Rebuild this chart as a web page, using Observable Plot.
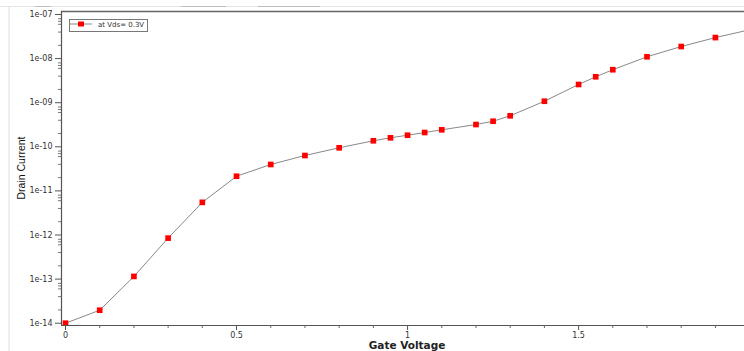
<!DOCTYPE html>
<html>
<head>
<meta charset="utf-8">
<script src="https://cdn.jsdelivr.net/npm/d3@7"></script>
<script src="https://cdn.jsdelivr.net/npm/@observablehq/plot@0.6"></script>
<style>
  html, body { margin: 0; padding: 0; background: #fff; overflow: hidden; width: 744px; height: 351px; }
  #wrap { position: relative; width: 744px; height: 351px; }
  #wrap svg { position: absolute; left: 0; top: 0; }
  .winTop { position: absolute; left: 0; top: 6px; width: 744px; height: 1px; background: #e4e4e4; }
  .winTopDark { position: absolute; top: 6px; height: 1px; background: #bdbdbd; }
  .winLeft { position: absolute; left: 8px; top: 7px; width: 2px; height: 344px; background: #efefef; }
  .ytitle { position: absolute; left: 21px; top: 168px; transform: translate(-50%, -50%) rotate(-90deg);
            font-family: "Liberation Sans", Arial, sans-serif; font-size: 10.5px; color: #111; white-space: nowrap; }
  .xtitle { position: absolute; left: 407px; top: 345px; transform: translate(-50%, -50%);
            font-family: "DejaVu Sans", sans-serif; font-weight: bold; font-size: 10.5px; color: #222; white-space: nowrap; }
  .legend { position: absolute; left: 69px; top: 19px; width: 77px; height: 11px; border: 1px solid #777; background: #fff;
            font-family: "DejaVu Sans", sans-serif; font-size: 7px; color: #333; }
  .legend svg { position: absolute; left: 3px; top: 2px; }
  .legend span { position: absolute; left: 28px; top: 1px; white-space: nowrap; }
</style>
</head>
<body>
<div id="wrap">
  <div class="winTop"></div>
  <div class="winTopDark" style="left:35px;width:16px"></div>
  <div class="winTopDark" style="left:181px;width:45px"></div>
  <div class="winTopDark" style="left:258px;width:62px"></div>
  <div class="winLeft"></div>
</div>
<script>
// ---- data ----
const gateVoltage = [0, 0.1, 0.2, 0.3, 0.4, 0.5, 0.6, 0.7, 0.8, 0.9, 0.95, 1.0, 1.05, 1.1, 1.2, 1.25, 1.3, 1.4, 1.5, 1.55, 1.6, 1.7, 1.8, 1.9, 2.0];
const drainCurrent = [1.0e-14, 1.97e-14, 1.15e-13, 8.5e-13, 5.5e-12, 2.15e-11, 3.97e-11, 6.35e-11, 9.5e-11, 1.37e-10, 1.6e-10, 1.83e-10, 2.11e-10, 2.43e-10, 3.2e-10, 3.8e-10, 5.05e-10, 1.08e-9, 2.59e-9, 3.87e-9, 5.6e-9, 1.1e-8, 1.88e-8, 3.0e-8, 4.5e-8];
const seriesLabel = "at Vds= 0.3V";
const xTitle = "Gate Voltage";
const yTitle = "Drain Current";
const xMajorTicks = [0, 0.5, 1, 1.5];
const xTickLabels = ["0", "0.5", "1", "1.5"];
const xMinorTicks = [0.1, 0.2, 0.3, 0.4, 0.6, 0.7, 0.8, 0.9, 1.1, 1.2, 1.3, 1.4, 1.6, 1.7, 1.8, 1.9];
const yMajorTicks = [1e-14, 1e-13, 1e-12, 1e-11, 1e-10, 1e-9, 1e-8, 1e-7];
const yTickLabels = ["1e-14", "1e-13", "1e-12", "1e-11", "1e-10", "1e-09", "1e-08", "1e-07"];
const yMinorMultipliers = [2, 4, 6, 7, 8];
const xDomain = [-0.0117, 1.985];
const yDomain = [8.87e-15, 1.17e-7];

const data = gateVoltage.map((v, i) => ({v, i: drainCurrent[i]}));
const yMinorTicks = yMajorTicks.slice(0, -1).flatMap(d => yMinorMultipliers.map(k => k * d));
const xLab = new Map(xMajorTicks.map((t, i) => [t, xTickLabels[i]]));
const yLab = new Map(yMajorTicks.map((t, i) => [t, yTickLabels[i]]));

const axisColor = "#555";
const chart = Plot.plot({
  width: 744,
  height: 351,
  marginLeft: 61,
  marginRight: 0,
  marginTop: 11,
  marginBottom: 26,
  style: {fontFamily: "DejaVu Sans, sans-serif", fontSize: "8px", color: "#333", background: "transparent"},
  x: {domain: xDomain, label: null},
  y: {type: "log", domain: yDomain, label: null},
  marks: [
    Plot.ruleY([yDomain[1]], {stroke: "#666", strokeWidth: 1.5}),
    Plot.ruleX([xDomain[0]], {stroke: axisColor, strokeWidth: 1.2}),
    Plot.ruleY([yDomain[0]], {stroke: axisColor, strokeWidth: 1.2}),
    Plot.axisY(yMinorTicks, {tickSize: 3, tickFormat: () => "", stroke: "#777", label: null}),
    Plot.axisY(yMajorTicks, {tickSize: 6, tickPadding: 3, tickFormat: d => yLab.get(d), stroke: axisColor, fill: "#333", label: null}),
    Plot.axisX(xMinorTicks, {tickSize: 3, tickFormat: () => "", stroke: "#666", label: null}),
    Plot.axisX(xMajorTicks, {tickSize: 5, tickPadding: 2, tickFormat: d => xLab.get(d), stroke: axisColor, fill: "#333", label: null}),
    Plot.line(data, {x: "v", y: "i", stroke: "#888", strokeWidth: 1, clip: true}),
    Plot.dot(data, {x: "v", y: "i", symbol: "square", r: 3.2, fill: "#ff0000", stroke: "none", clip: true})
  ]
});

const wrap = document.getElementById("wrap");
wrap.appendChild(chart);

const yt = document.createElement("div");
yt.className = "ytitle"; yt.textContent = yTitle; wrap.appendChild(yt);
const xt = document.createElement("div");
xt.className = "xtitle"; xt.textContent = xTitle; wrap.appendChild(xt);

const lg = document.createElement("div");
lg.className = "legend";
lg.innerHTML = `<svg width="24" height="8"><line x1="0" y1="4" x2="22" y2="4" stroke="#888" stroke-width="1"/><rect x="8" y="1.5" width="6" height="5" fill="#ff0000"/></svg><span></span>`;
lg.querySelector("span").textContent = seriesLabel;
wrap.appendChild(lg);
</script>
</body>
</html>
